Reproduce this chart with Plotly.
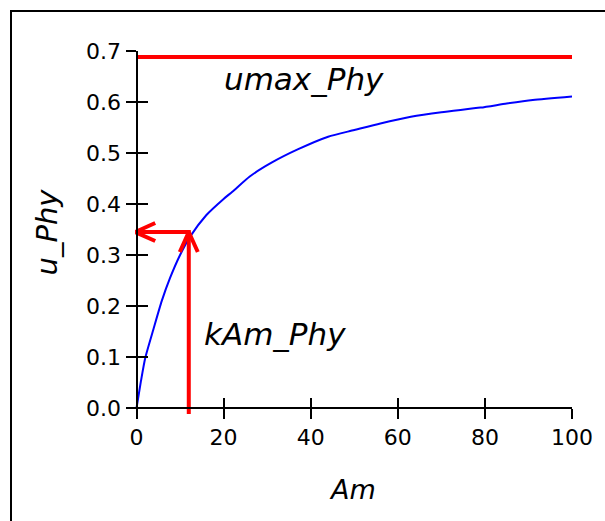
import plotly.graph_objects as go

# ---- data ----
am = [0, 1, 2, 3.9, 5.8, 7.7, 10, 12.3, 16, 20, 22, 26, 31, 37, 44, 50, 56, 63, 70, 79, 85, 91, 100]
u_phy = [0, 0.052, 0.098, 0.155, 0.21, 0.255, 0.30, 0.336, 0.378, 0.41, 0.424, 0.454, 0.481, 0.507,
         0.532, 0.545, 0.558, 0.571, 0.58, 0.589, 0.597, 0.604, 0.611]
umax_phy = 0.688
kam_phy = 12
half_umax = 0.345
x_ticks = [0, 20, 40, 60, 80, 100]
y_ticks = [0.0, 0.1, 0.2, 0.3, 0.4, 0.5, 0.6, 0.7]

# ---- layout geometry ----
W, H = 605, 521
ML, MR, MT, MB = 135, 33, 51, 107
XR = [-0.35, 100]
YR = [-0.0118, 0.7]
pw, ph = W - ML - MR, H - MT - MB
sx = pw / (XR[1] - XR[0])
sy = ph / (YR[1] - YR[0])
xpos = (YR[0] * -1) / (YR[1] - YR[0])
ypos = (XR[0] * -1) / (XR[1] - XR[0])

RED = "#ff0000"
FONT = "DejaVu Sans"

fig = go.Figure()
fig.add_trace(go.Scatter(x=am, y=u_phy, mode="lines",
                         line=dict(color="#0000ff", width=2, shape="spline", smoothing=0.6),
                         hoverinfo="skip"))
fig.add_trace(go.Scatter(x=[0, 100], y=[umax_phy, umax_phy], mode="lines",
                         line=dict(color=RED, width=4)))
# arrow shafts
fig.add_trace(go.Scatter(x=[kam_phy, kam_phy, 0], y=[YR[0], half_umax, half_umax], mode="lines",
                         line=dict(color=RED, width=4)))
# arrow heads
hl, hw = 20, 9
fig.add_trace(go.Scatter(x=[kam_phy - hw / sx, kam_phy, kam_phy + hw / sx],
                         y=[half_umax - hl / sy, half_umax, half_umax - hl / sy],
                         mode="lines", line=dict(color=RED, width=4)))
fig.add_trace(go.Scatter(x=[hl / sx - 0.3, -0.3, hl / sx - 0.3],
                         y=[half_umax + hw / sy, half_umax, half_umax - hw / sy],
                         mode="lines", line=dict(color=RED, width=4)))

fig.add_annotation(x=19.6, y=umax_phy, yshift=-22, xanchor="left", yanchor="middle",
                   text="<i>umax_Phy</i>", showarrow=False,
                   font=dict(family=FONT, size=31, color="black"))
fig.add_annotation(x=15, y=0.145, xanchor="left", yanchor="middle",
                   text="<i>kAm_Phy</i>", showarrow=False,
                   font=dict(family=FONT, size=31, color="black"))

axis_common = dict(showgrid=False, zeroline=False, ticklen=10, tickwidth=2, tickcolor="black")
fig.update_layout(
    width=W, height=H, margin=dict(l=ML, r=MR, t=MT, b=MB, pad=0),
    paper_bgcolor="white", plot_bgcolor="white", showlegend=False,
    font=dict(family=FONT, size=22, color="black"),
    xaxis=dict(range=XR, anchor="free", position=xpos, tickvals=x_ticks, ticks="outside",
               showline=True, linecolor="black", linewidth=2,
               title=dict(text="<i>Am</i>", font=dict(size=27), standoff=30), **axis_common),
    yaxis=dict(range=YR, anchor="free", position=ypos, tickvals=y_ticks, tickformat=".1f",
               ticks="outside", showline=True, linecolor="black", linewidth=2,
               title=dict(text="<i>u_Phy</i>", font=dict(size=29), standoff=19), **axis_common),
    xaxis2=dict(range=XR, overlaying="x", anchor="free", position=xpos, tickvals=x_ticks,
                ticks="inside", showticklabels=False, showline=False, **axis_common),
    yaxis2=dict(range=YR, overlaying="y", anchor="free", position=ypos, tickvals=y_ticks,
                ticks="inside", showticklabels=False, showline=False, **axis_common),
)
# invisible traces to activate the overlay axes
fig.add_trace(go.Scatter(x=[None], y=[None], xaxis="x2", yaxis="y2", showlegend=False))

# outer frame
fig.add_shape(type="rect", xref="paper", yref="paper",
              x0=(11 - ML) / pw, x1=(W + 20 - ML) / pw,
              y0=-(MB + 20) / ph, y1=(H - 11 - MB) / ph,
              line=dict(color="black", width=2), fillcolor="rgba(0,0,0,0)", layer="below")

fig.write_html("out.html")
